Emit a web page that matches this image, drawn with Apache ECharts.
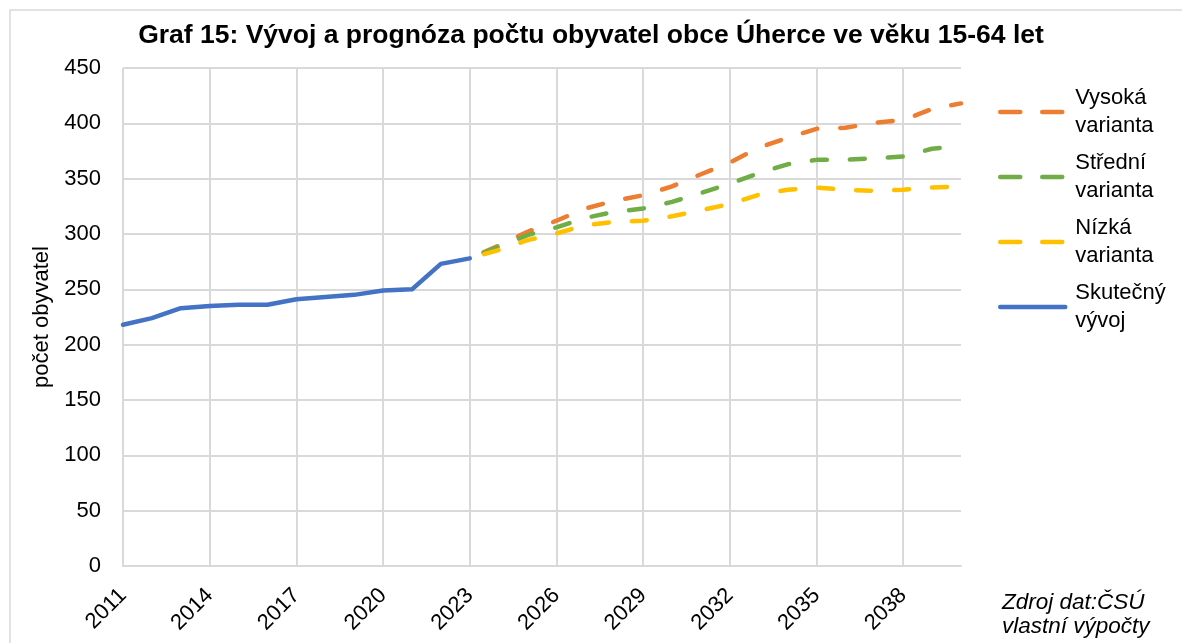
<!DOCTYPE html>
<html>
<head>
<meta charset="utf-8">
<script src="https://cdn.jsdelivr.net/npm/echarts@6/dist/echarts.min.js"></script>
<style>
  html, body { margin: 0; padding: 0; background: #fff; }
  #chart { width: 1182px; height: 643px; }
</style>
</head>
<body>
<div id="chart"></div>
<script>
// roky 2011–2040
const years = [];
for (let y = 2011; y <= 2040; y++) years.push(String(y));

// skutečný vývoj 2011–2023
const actual = [218, 224, 233, 235, 236, 236, 241, 243, 245, 249, 250, 273, 278];

// prognóza 2023–2040
const high = [278, 289.5, 302, 312, 323, 330, 335, 343, 354, 364.5, 378, 387, 395, 396, 400.5, 403, 413, 418];
const mid  = [278, 288.5, 299, 306, 314.5, 320, 323, 329, 337, 345.5, 355, 363, 367, 367, 368.5, 370, 377, 379.5];
const low  = [278, 285.5, 294.5, 300.5, 308, 311, 312, 316, 321.5, 327, 335.5, 340, 342, 340, 339, 340, 342, 343];

const yTicks = { min: 0, max: 450, interval: 50 };

// doplnit null před rokem 2023 / po roce 2023
const pad = (arr, before) => before
  ? Array(years.length - arr.length).fill(null).concat(arr)
  : arr.concat(Array(years.length - arr.length).fill(null));

const font = "'Liberation Sans', Arial, sans-serif";
const grid = '#d9d9d9';

const myChart = echarts.init(document.getElementById('chart'));

const dashed = (name, data, color) => ({
  name: name,
  type: 'line',
  data: pad(data, true),
  showSymbol: false,
  symbol: 'none',
  lineStyle: { width: 4.5, color: color, type: [15, 23], dashOffset: 23, cap: 'round', join: 'round' },
  itemStyle: { color: color }
});

const legendDash = { type: [20, 22], dashOffset: 0, width: 4.5, cap: 'round' };

const option = {
  textStyle: { fontFamily: font },
  title: [
    {
      text: 'Graf 15: Vývoj a prognóza počtu obyvatel obce Úherce ve věku 15-64 let',
      left: 'center',
      top: 21,
      padding: 0,
      textStyle: { fontFamily: font, fontSize: 26.5, fontWeight: 'bold', color: '#000', lineHeight: 30 }
    },
    {
      text: 'Zdroj dat:ČSÚ\nvlastní výpočty',
      left: 1002,
      top: 591,
      padding: 0,
      textStyle: { fontFamily: font, fontSize: 22.5, fontWeight: 'normal', fontStyle: 'italic', color: '#000', lineHeight: 24 }
    }
  ],
  graphic: [
    {
      type: 'rect',
      shape: { x: 10, y: 10, width: 1200, height: 700 },
      style: { fill: 'none', stroke: grid, lineWidth: 1.5 },
      silent: true
    }
  ],
  legend: {
    orient: 'vertical',
    left: 998,
    top: 70,
    padding: 0,
    itemWidth: 65,
    itemHeight: 14,
    itemGap: -19,
    itemStyle: { opacity: 0 },
    lineStyle: { width: 4.5, cap: 'round' },
    data: [
      { name: 'Vysoká varianta', lineStyle: legendDash },
      { name: 'Střední varianta', lineStyle: legendDash },
      { name: 'Nízká varianta', lineStyle: legendDash },
      { name: 'Skutečný vývoj', lineStyle: { type: 'solid', width: 4.5, cap: 'round' } }
    ],
    formatter: name => name.replace(' ', '\n'),
    textStyle: { fontFamily: font, fontSize: 22, lineHeight: 28, color: '#000', padding: [28, 0, 0, 5] }
  },
  grid: { left: 123, right: 221, top: 68, bottom: 77 },
  xAxis: {
    type: 'category',
    data: years,
    boundaryGap: false,
    axisLine: { lineStyle: { color: grid, width: 2 } },
    axisTick: { show: false },
    axisLabel: { interval: 2, rotate: 45, fontSize: 22, color: '#000', margin: 26, fontFamily: font },
    splitLine: { show: true, interval: 2, lineStyle: { color: grid, width: 2 } }
  },
  yAxis: {
    type: 'value',
    min: yTicks.min,
    max: yTicks.max,
    interval: yTicks.interval,
    name: 'počet obyvatel',
    nameLocation: 'middle',
    nameGap: 69,
    nameTextStyle: { fontSize: 22, color: '#000', fontFamily: font },
    axisLine: { show: false },
    axisTick: { show: false },
    axisLabel: { fontSize: 22, color: '#000', margin: 22, fontFamily: font },
    splitLine: { lineStyle: { color: grid, width: 2 } }
  },
  series: [
    dashed('Vysoká varianta', high, '#ED7D31'),
    dashed('Střední varianta', mid, '#70AD47'),
    dashed('Nízká varianta', low, '#FFC000'),
    {
      name: 'Skutečný vývoj',
      type: 'line',
      data: pad(actual, false),
      showSymbol: false,
      symbol: 'none',
      lineStyle: { width: 4.5, color: '#4472C4', cap: 'round', join: 'round' },
      itemStyle: { color: '#4472C4' }
    }
  ]
};

myChart.setOption(option);

window.addEventListener('resize', () => {
  myChart.resize();
});
</script>
</body>
</html>
